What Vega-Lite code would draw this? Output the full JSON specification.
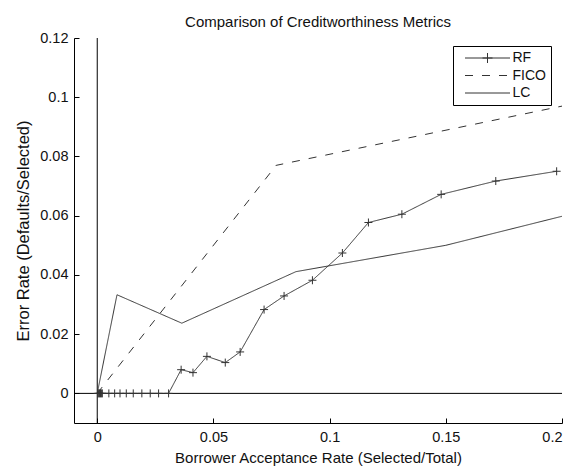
{
  "$schema": "https://vega.github.io/schema/vega-lite/v6.json",
  "width": 488,
  "height": 385,
  "autosize": "none",
  "padding": {"left": 74, "top": 38, "right": 8, "bottom": 45},
  "background": "white",
  "config": {
    "view": {"stroke": null},
    "font": "Liberation Sans",
    "axis": {
      "grid": false,
      "domainColor": "#000",
      "tickColor": "#000",
      "labelColor": "#111",
      "titleColor": "#111",
      "labelFont": "Liberation Sans",
      "titleFont": "Liberation Sans",
      "labelFontSize": 14.5,
      "titleFontSize": 15,
      "titleFontWeight": "normal"
    }
  },
  "title": {
    "text": "Comparison of Creditworthiness Metrics",
    "fontSize": 15,
    "fontWeight": "normal",
    "font": "Liberation Sans",
    "color": "#111",
    "offset": 0,
    "anchor": "middle"
  },
  "datasets": {
    "curves": [
      {"series": "RF", "x": 0.0002, "y": 0},
      {"series": "RF", "x": 0.0006, "y": 0},
      {"series": "RF", "x": 0.001, "y": 0},
      {"series": "RF", "x": 0.0014, "y": 0},
      {"series": "RF", "x": 0.0018, "y": 0},
      {"series": "RF", "x": 0.0022, "y": 0},
      {"series": "RF", "x": 0.005, "y": 0},
      {"series": "RF", "x": 0.0075, "y": 0},
      {"series": "RF", "x": 0.0098, "y": 0},
      {"series": "RF", "x": 0.0125, "y": 0},
      {"series": "RF", "x": 0.0155, "y": 0},
      {"series": "RF", "x": 0.0192, "y": 0},
      {"series": "RF", "x": 0.0228, "y": 0},
      {"series": "RF", "x": 0.0264, "y": 0},
      {"series": "RF", "x": 0.0307, "y": 0},
      {"series": "RF", "x": 0.0361, "y": 0.008},
      {"series": "RF", "x": 0.0412, "y": 0.007},
      {"series": "RF", "x": 0.0472, "y": 0.0125},
      {"series": "RF", "x": 0.0551, "y": 0.0104},
      {"series": "RF", "x": 0.0615, "y": 0.014},
      {"series": "RF", "x": 0.0718, "y": 0.0283},
      {"series": "RF", "x": 0.0804, "y": 0.0329},
      {"series": "RF", "x": 0.0926, "y": 0.0382},
      {"series": "RF", "x": 0.1055, "y": 0.0474},
      {"series": "RF", "x": 0.1167, "y": 0.0577},
      {"series": "RF", "x": 0.1311, "y": 0.0605},
      {"series": "RF", "x": 0.148, "y": 0.0672},
      {"series": "RF", "x": 0.1715, "y": 0.0717},
      {"series": "RF", "x": 0.1977, "y": 0.075},
      {"series": "FICO", "x": 0, "y": 0},
      {"series": "FICO", "x": 0.077, "y": 0.077},
      {"series": "FICO", "x": 0.2, "y": 0.097},
      {"series": "LC", "x": 0, "y": 0},
      {"series": "LC", "x": 0.0085, "y": 0.0333},
      {"series": "LC", "x": 0.0364, "y": 0.0237},
      {"series": "LC", "x": 0.0855, "y": 0.0411},
      {"series": "LC", "x": 0.15, "y": 0.05},
      {"series": "LC", "x": 0.2, "y": 0.0598}
    ],
    "refs": [{"x0": 0, "y0": 0}]
  },
  "resolve": {"legend": {"strokeDash": "independent", "shape": "independent"}},
  "layer": [
    {
      "data": {"name": "refs"},
      "mark": {"type": "rule", "color": "#000", "strokeWidth": 1},
      "encoding": {"x": {"field": "x0", "type": "quantitative"}}
    },
    {
      "data": {"name": "refs"},
      "mark": {"type": "rule", "color": "#000", "strokeWidth": 1},
      "encoding": {"y": {"field": "y0", "type": "quantitative"}}
    },
    {
      "data": {"name": "curves"},
      "mark": {"type": "line", "color": "#333", "strokeWidth": 1},
      "encoding": {
        "x": {
          "field": "x",
          "type": "quantitative",
          "scale": {"domain": [-0.01, 0.2], "nice": false, "zero": false},
          "axis": {
            "values": [0, 0.05, 0.1, 0.15, 0.2],
            "format": "~g",
            "tickSize": -5,
            "labelPadding": 12,
            "title": "Borrower Acceptance Rate (Selected/Total)",
            "titlePadding": 7
          }
        },
        "y": {
          "field": "y",
          "type": "quantitative",
          "scale": {"domain": [-0.01, 0.12], "nice": false, "zero": false},
          "axis": {
            "values": [0, 0.02, 0.04, 0.06, 0.08, 0.1, 0.12],
            "format": "~g",
            "tickSize": -5,
            "labelPadding": 11,
            "title": "Error Rate (Defaults/Selected)",
            "titleFontSize": 16.5,
            "titlePadding": 8
          }
        },
        "strokeDash": {
          "field": "series",
          "type": "nominal",
          "scale": {"domain": ["RF", "FICO", "LC"], "range": [[1, 0], [8, 9], [1, 0]]},
          "legend": {
            "title": null,
            "orient": "none",
            "legendX": 379,
            "legendY": 8,
            "strokeColor": "#000",
            "fillColor": "white",
            "padding": 5,
            "symbolType": "M-4.5,0H4.5",
            "symbolSize": 100,
            "symbolStrokeWidth": 1,
            "symbolStrokeColor": "#333",
            "symbolOffset": 22.5,
            "labelOffset": 18,
            "labelFontSize": 14,
            "labelFont": "Liberation Sans",
            "labelColor": "#111",
            "labelExpr": "datum.label + '\u00a0\u00a0\u00a0\u00a0'",
            "rowPadding": 3.5,
            "zindex": 1
          }
        }
      }
    },
    {
      "data": {"name": "curves"},
      "transform": [{"filter": "datum.series === 'RF'"}],
      "mark": {"type": "point", "size": 64, "filled": false, "stroke": "#333", "strokeWidth": 1, "opacity": 1},
      "encoding": {
        "x": {"field": "x", "type": "quantitative"},
        "y": {"field": "y", "type": "quantitative"},
        "shape": {
          "field": "series",
          "type": "nominal",
          "scale": {"domain": ["RF"], "range": ["M-1,0H1M0,-1V1"]},
          "legend": {
            "title": null,
            "orient": "none",
            "legendX": 379,
            "legendY": 8,
            "padding": 5,
            "symbolType": "M0,-0.8V0.8",
            "symbolSize": 100,
            "symbolStrokeWidth": 1,
            "symbolStrokeColor": "#333",
            "symbolOffset": 22.5,
            "labelOffset": 18,
            "labelFontSize": 14,
            "labelFont": "Liberation Sans",
            "labelOpacity": 0,
            "rowPadding": 3.5,
            "zindex": 2
          }
        }
      }
    }
  ]
}
